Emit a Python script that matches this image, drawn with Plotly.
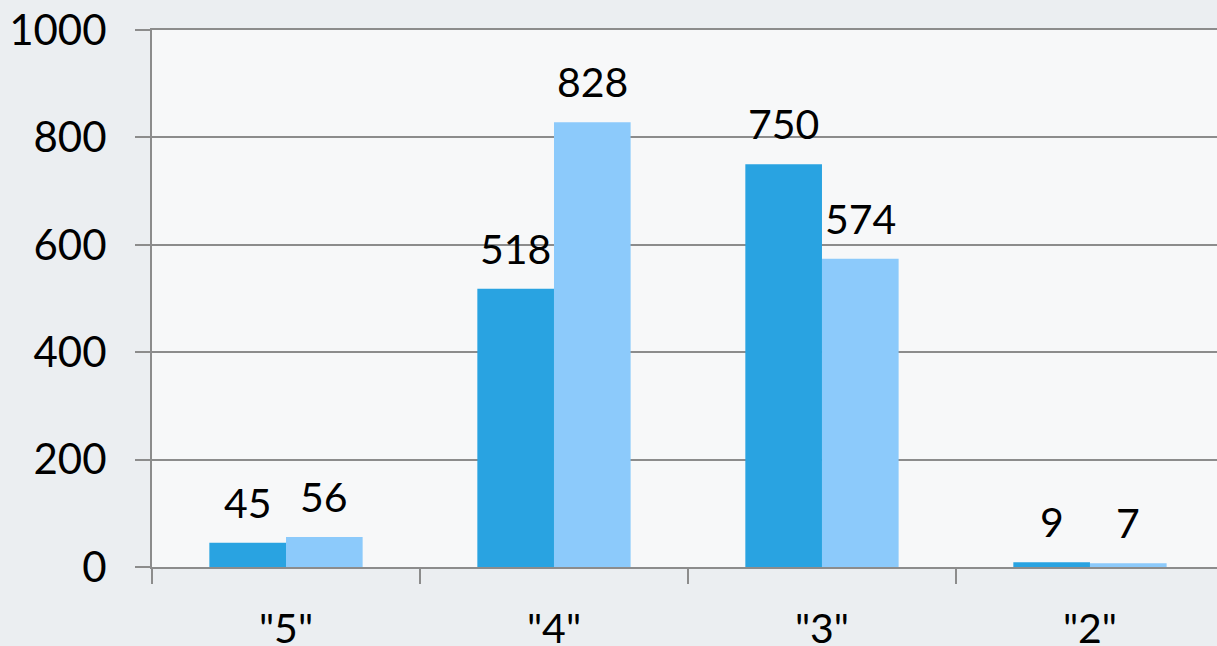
import plotly.graph_objects as go

categories = ['"5"', '"4"', '"3"', '"2"']
series_a = [45, 518, 750, 9]
series_b = [56, 828, 574, 7]
y_ticks = [0, 200, 400, 600, 800, 1000]

color_a = "#29A3E1"
color_b = "#8CCAFB"
font_family = "Lato, 'Open Sans', sans-serif"

fig = go.Figure()
fig.add_trace(go.Bar(x=categories, y=series_a, marker=dict(color=color_a, line=dict(width=0)), name="A"))
fig.add_trace(go.Bar(x=categories, y=series_b, marker=dict(color=color_b, line=dict(width=0)), name="B"))

annotations = []
for shift, vals in ((-38.3, series_a), (38.3, series_b)):
    for c, v in zip(categories, vals):
        annotations.append(dict(
            x=c, y=v, xref="x", yref="y", text=str(v), showarrow=False,
            xanchor="center", yanchor="bottom", xshift=shift, yshift=14,
            font=dict(family=font_family, size=41, color="#000000"),
        ))

fig.update_layout(
    width=1217, height=646,
    margin=dict(l=152, r=0, t=30, b=79, autoexpand=False),
    paper_bgcolor="#EBEEF1",
    plot_bgcolor="rgba(255,255,255,0.6)",
    barmode="group",
    bargap=0.428,
    bargroupgap=0,
    showlegend=False,
    font=dict(family=font_family, size=41, color="#000000"),
    annotations=annotations,
    xaxis=dict(
        range=[-0.5, 3.474],
        showgrid=False,
        showline=True, mirror=True, linecolor="#8C8C8C", linewidth=2,
        ticks="outside", tickson="boundaries", ticklen=15, tickwidth=2, tickcolor="#8C8C8C",
        tickfont=dict(family=font_family, size=41, color="#000000"),
        ticklabelstandoff=25,
        ticklabeloverflow="allow",
        automargin=False,
    ),
    yaxis=dict(
        range=[0, 1000],
        tickvals=y_ticks,
        showgrid=True, gridcolor="#8C8C8C", gridwidth=2,
        showline=True, linecolor="#8C8C8C", linewidth=2,
        ticks="outside", ticklen=15, tickwidth=2, tickcolor="#8C8C8C",
        tickfont=dict(family=font_family, size=42, color="#000000"),
        ticklabelstandoff=20,
        ticklabeloverflow="allow",
        zeroline=False,
        automargin=False,
    ),
)

fig.write_html(
    "out.html",
    config={"displayModeBar": False},
    post_script="document.body.style.margin='0';document.body.style.background='#EBEEF1';",
)
